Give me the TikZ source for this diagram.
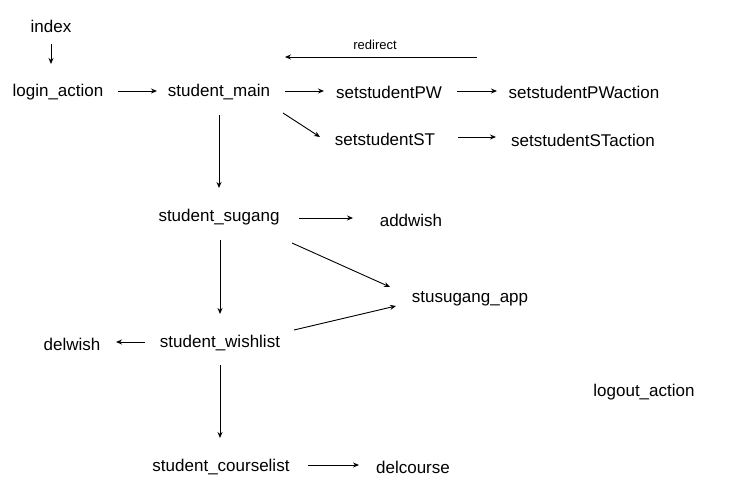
\documentclass[tikz,border=0pt]{standalone}
\usepackage{fontspec}
\setmainfont{Liberation Sans}
\usetikzlibrary{arrows.meta}
\begin{document}
\begin{tikzpicture}[x=1pt,y=-1pt,
  lbl/.style={inner sep=0pt,yshift=-1.5pt,font=\fontsize{17}{19}\selectfont},
  small/.style={inner sep=0pt,yshift=-1pt,font=\fontsize{13}{15}\selectfont},
  arr/.style={line width=0.9pt,-{Stealth[length=6pt,width=5pt]}}]
\useasboundingbox (0,0) rectangle (744,487);
\fill[white] (0,0) rectangle (744,487);
\node[lbl] (index) at (51,25) {index};
\node[lbl] (login) at (58,91) {login\_action};
\node[lbl] (main) at (219,91) {student\_main};
\node[lbl] (pw) at (389,91) {setstudentPW};
\node[lbl] (pwa) at (584,91) {setstudentPWaction};
\node[lbl] (st) at (385,138) {setstudentST};
\node[lbl] (sta) at (583,139) {setstudentSTaction};
\node[small] (redirect) at (375,44) {redirect};
\node[lbl] (sugang) at (219,216) {student\_sugang};
\node[lbl] (addwish) at (411,219) {addwish};
\node[lbl] (app) at (470,297) {stusugang\_app};
\node[lbl] (delwish) at (72,343) {delwish};
\node[lbl] (wish) at (220,342) {student\_wishlist};
\node[lbl] (logout) at (644,391) {logout\_action};
\node[lbl] (course) at (221,466) {student\_courselist};
\node[lbl] (delcourse) at (413,466) {delcourse};
\coordinate (rstart) at (477,57);

\draw[arr] ([shift={(0,17.5)}]index.center) -- ([shift={(-7,-28.5)}]login.center);
\draw[arr] ([shift={(60,-1.5)}]login.center) -- ([shift={(-62,-1.5)}]main.center);
\draw[arr] ([shift={(66,-1.5)}]main.center) -- ([shift={(-65,-1.5)}]pw.center);
\draw[arr] ([shift={(64,20.5)}]main.center) -- ([shift={(-65,-2.5)}]st.center);
\draw[arr] ([shift={(68,-1.5)}]pw.center) -- ([shift={(-87,-1.5)}]pwa.center);
\draw[arr] ([shift={(73,-2.5)}]st.center) -- ([shift={(-87,-3.5)}]sta.center);
\draw[arr] (rstart) -- ([shift={(66,-35.5)}]main.center);
\draw[arr] ([shift={(0,22.5)}]main.center) -- ([shift={(0,-29.5)}]sugang.center);
\draw[arr] ([shift={(80,0.5)}]sugang.center) -- ([shift={(-58,-2.5)}]addwish.center);
\draw[arr] ([shift={(73,25.5)}]sugang.center) -- ([shift={(-80,-11.5)}]app.center);
\draw[arr] ([shift={(1,22.5)}]sugang.center) -- ([shift={(0,-29.5)}]wish.center);
\draw[arr] ([shift={(74,-13.5)}]wish.center) -- ([shift={(-74,7.5)}]app.center);
\draw[arr] ([shift={(-75,-1.5)}]wish.center) -- ([shift={(44,-2.5)}]delwish.center);
\draw[arr] ([shift={(0,21.5)}]wish.center) -- ([shift={(-1,-29.5)}]course.center);
\draw[arr] ([shift={(87,-2.5)}]course.center) -- ([shift={(-54,-2.5)}]delcourse.center);
\end{tikzpicture}
\end{document}
